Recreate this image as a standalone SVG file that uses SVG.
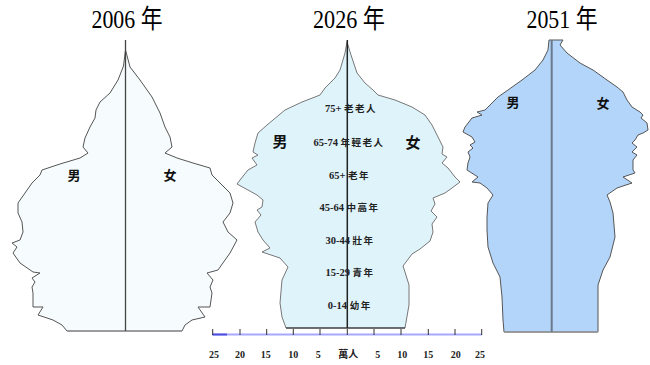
<svg xmlns="http://www.w3.org/2000/svg" width="650" height="365" viewBox="0 0 650 365">
<style>
.title{font-family:"Liberation Serif","Noto Sans CJK TC",serif;font-size:26px;fill:#000;text-anchor:middle}
.sex{font-family:"Liberation Serif","Noto Sans CJK TC",serif;font-size:13px;font-weight:bold;fill:#111;text-anchor:middle}
.age{font-family:"Liberation Serif","Noto Sans CJK TC",serif;font-size:10.5px;font-weight:bold;fill:#222;text-anchor:middle}
.cj{font-size:9.5px;letter-spacing:1.5px}
.ax{font-family:"Liberation Serif","Noto Sans CJK TC",serif;font-size:10px;font-weight:bold;fill:#222;text-anchor:middle}
.outline{stroke-linejoin:round;stroke-width:1}
</style>
<rect width="650" height="365" fill="#fff"/>
<g id="pyramid-2006">
<text class="title" x="127" y="28" textLength="71" lengthAdjust="spacingAndGlyphs">2006 年</text>
<path class="outline" fill="#f6fcfd" stroke="#555" d="M125.5,50 L123.5,66 L118,80 L110,93 L100,102 L96,110 L95,118 L90,127 L85,138 L83,147 L88,153 L80,158 L60,164 L42,170 L40,175 L32,183 L25,193 L18,203 L18,213 L22,222 L23,232 L20,240 L12,243 L17,247 L13,253 L20,263 L33,272 L40,273 L32,278 L35,282 L32,287 L33,293 L33,307 L43,307 L38,315 L53,320 L62,325 L67,331 L182,331 L185,325 L192,320 L205,317 L198,307 L210,307 L212,293 L210,287 L213,280 L207,273 L218,270 L230,253 L237,240 L228,232 L223,222 L230,213 L233,203 L230,193 L220,183 L212,175 L210,168 L193,163 L177,158 L165,153 L172,147 L170,137 L165,127 L160,113 L152,97 L140,80 L130,67 Z"/>
<line x1="67" y1="331" x2="182" y2="331" stroke="#999" stroke-width="1.5"/>
<line x1="125.5" y1="40" x2="125.5" y2="331" stroke="#444" stroke-width="1.3"/>
<text class="sex" x="74" y="180">男</text>
<text class="sex" x="170" y="180">女</text>
</g>
<g id="pyramid-2026">
<text class="title" x="349" y="28" textLength="72" lengthAdjust="spacingAndGlyphs">2026 年</text>
<path class="outline" fill="#dff3fb" stroke="#777" d="M347,42 L345,53 L340,70 L335,78 L325,88 L320,95 L315,97 L302,102 L285,110 L273,120 L267,125 L258,133 L255,143 L253,152 L258,155 L252,158 L257,165 L248,170 L240,180 L237,184 L248,190 L257,195 L263,200 L262,207 L257,210 L261,215 L255,222 L258,232 L263,240 L270,248 L262,252 L280,258 L288,267 L282,280 L280,303 L282,317 L286,328 L405,328 L409,305 L409,285 L405,272 L403,266 L412,254 L420,249 L430,241 L433,232 L432,224 L437,217 L431,211 L435,204 L433,198 L445,193 L452,188 L460,182 L455,177 L448,168 L442,163 L447,157 L442,154 L443,147 L438,137 L432,125 L425,115 L412,107 L395,100 L378,95 L373,90 L365,83 L357,73 L351,55 Z"/>
<line x1="286" y1="328" x2="405" y2="328" stroke="#222" stroke-width="1.2"/>
<line x1="347.3" y1="40" x2="347.3" y2="328" stroke="#222" stroke-width="1.5"/>
<text class="sex" style="font-size:15px" x="280" y="147">男</text>
<text class="sex" style="font-size:15px" x="413" y="148">女</text>
<text class="age" x="351" y="112">75+ <tspan class="cj">老老人</tspan></text>
<text class="age" x="349" y="146">65-74 <tspan class="cj">年輕老人</tspan></text>
<text class="age" x="349.5" y="179">65+ <tspan class="cj">老年</tspan></text>
<text class="age" x="349.5" y="211">45-64 <tspan class="cj">中高年</tspan></text>
<text class="age" x="350" y="244">30-44  <tspan class="cj">壯年</tspan></text>
<text class="age" x="350" y="276">15-29 <tspan class="cj">青年</tspan></text>
<text class="age" x="349.7" y="309">0-14 <tspan class="cj">幼年</tspan></text>
</g>
<g id="pyramid-2051">
<text class="title" x="562" y="28" textLength="71" lengthAdjust="spacingAndGlyphs">2051 年</text>
<path class="outline" fill="#b3d5fa" stroke="#555" d="M549,40 L563,40 L560,45 L567,53 L580,63 L593,70 L607,80 L617,87 L623,92 L627,100 L632,107 L640,112 L643,115 L641,118 L647,123 L648,130 L643,133 L638,135 L635,140 L632,143 L637,147 L632,152 L637,155 L633,160 L633,170 L635,173 L623,177 L632,183 L617,188 L607,195 L610,202 L613,213 L615,237 L610,257 L603,270 L598,285 L598,332 L504,332 L503,320 L502,297 L500,277 L493,263 L488,247 L487,230 L487,217 L488,203 L493,195 L487,188 L480,183 L472,182 L478,177 L467,170 L468,163 L470,157 L468,152 L473,148 L470,145 L475,142 L472,137 L463,132 L465,127 L472,118 L482,115 L477,112 L485,110 L492,103 L498,97 L508,90 L522,80 L535,70 L543,60 L548,50 Z"/>
<line x1="504" y1="332" x2="598" y2="332" stroke="#999" stroke-width="1.5"/>
<line x1="551.7" y1="40" x2="551.7" y2="332" stroke="#6a7a8a" stroke-width="2"/>
<text class="sex" x="513" y="107">男</text>
<text class="sex" x="603" y="108">女</text>
</g>
<g id="axis">
<line x1="212.5" y1="334.5" x2="482" y2="334.5" stroke="#a8a8ff" stroke-width="2"/>
<line x1="212.5" y1="334.5" x2="227" y2="334.5" stroke="#5050e0" stroke-width="2"/>
<g stroke="#333" stroke-width="1">
<line x1="212.7" y1="329" x2="212.7" y2="335"/>
<line x1="240" y1="329" x2="240" y2="335"/>
<line x1="266.7" y1="329" x2="266.7" y2="335"/>
<line x1="293.3" y1="329" x2="293.3" y2="335"/>
<line x1="320" y1="329" x2="320" y2="335"/>
<line x1="347.3" y1="329" x2="347.3" y2="335"/>
<line x1="374" y1="329" x2="374" y2="335"/>
<line x1="401" y1="329" x2="401" y2="335"/>
<line x1="428.3" y1="329" x2="428.3" y2="335"/>
<line x1="455" y1="329" x2="455" y2="335"/>
<line x1="481.7" y1="329" x2="481.7" y2="335"/>
</g>
<text class="ax" x="214" y="358">25</text>
<text class="ax" x="240" y="358">20</text>
<text class="ax" x="265.7" y="358">15</text>
<text class="ax" x="293.3" y="358">10</text>
<text class="ax" x="318.3" y="358">5</text>
<text class="ax" x="348.3" y="358">萬人</text>
<text class="ax" x="377.7" y="358">5</text>
<text class="ax" x="402.3" y="358">10</text>
<text class="ax" x="428.3" y="358">15</text>
<text class="ax" x="455.7" y="358">20</text>
<text class="ax" x="480" y="358">25</text>
</g>
</svg>
